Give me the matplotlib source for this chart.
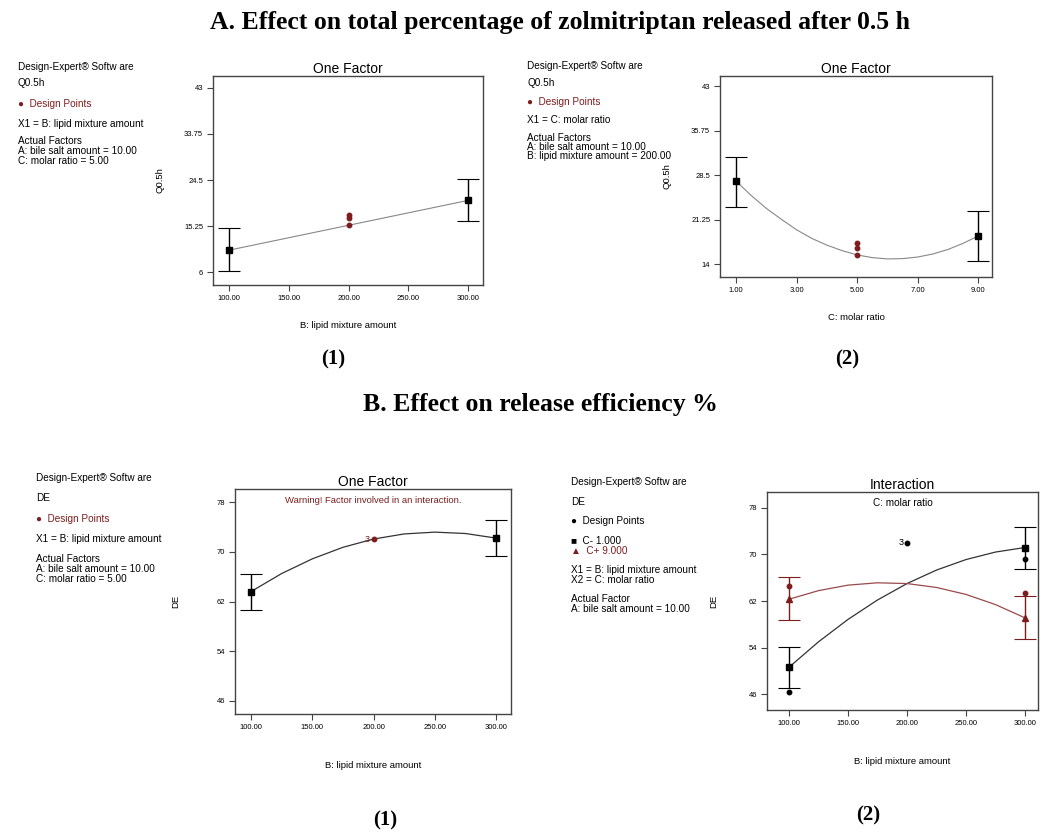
import numpy as np
import matplotlib
matplotlib.use('Agg')
import matplotlib.pyplot as plt

plt.rcParams['font.family'] = ['Liberation Sans', 'DejaVu Sans']

W, H = 1049, 832
RED = '#7d1d1d'
GREY = '#555555'

# ---- A(1): Q0.5h vs lipid mixture amount
a1_x = [100, 300]
a1_y = [10.4, 20.4]
a1_lo = [6.2, 16.2]
a1_hi = [14.8, 24.8]
a1_pts_x = [200, 200, 200]
a1_pts_y = [15.4, 16.9, 17.5]
a1_yticks = [6, 15.25, 24.5, 33.75, 43]
a1_ylabels = ['6', '15.25', '24.5', '33.75', '43']
a1_xticks = [100, 150, 200, 250, 300]

# ---- A(2): Q0.5h vs molar ratio
a2_x = [1, 9]
a2_y = [27.55, 18.6]
a2_lo = [23.4, 14.55]
a2_hi = [31.5, 22.6]
a2_curve_x = [1, 1.5, 2, 2.5, 3, 3.5, 4, 4.5, 5, 5.5, 6, 6.5, 7, 7.5, 8, 8.5, 9]
a2_curve_y = [27.55, 25.2, 23.1, 21.3, 19.6, 18.2, 17.1, 16.2, 15.5, 15.06, 14.85,
              14.9, 15.16, 15.66, 16.4, 17.4, 18.6]
a2_pts_x = [5, 5, 5]
a2_pts_y = [15.5, 16.7, 17.4]
a2_yticks = [14, 21.25, 28.5, 35.75, 43]
a2_ylabels = ['14', '21.25', '28.5', '35.75', '43']
a2_xticks = [1, 3, 5, 7, 9]

# ---- B(1): DE vs lipid mixture amount
b1_x = [100, 300]
b1_y = [63.6, 72.2]
b1_lo = [60.6, 69.3]
b1_hi = [66.4, 75.1]
b1_curve_x = [100, 125, 150, 175, 200, 225, 250, 275, 300]
b1_curve_y = [63.6, 66.5, 68.86, 70.72, 72.05, 72.87, 73.16, 72.94, 72.2]
b1_pt = (200, 72.05)
b_yticks = [46, 54, 62, 70, 78]
b_xticks = [100, 150, 200, 250, 300]

# ---- B(2): interaction plot
b2_x = [100, 300]
cm_y = [50.6, 71.2]
cm_lo = [47.0, 67.5]
cm_hi = [54.1, 74.7]
cp_y = [62.3, 59.1]
cp_lo = [58.8, 55.5]
cp_hi = [66.1, 62.8]
b2_curve_x = [100, 125, 150, 175, 200, 225, 250, 275, 300]
cm_curve = [50.6, 54.97, 58.83, 62.17, 65.0, 67.32, 69.13, 70.42, 71.2]
cp_curve = [62.3, 63.78, 64.73, 65.13, 65.0, 64.33, 63.13, 61.38, 59.1]
b2_black_x = [100, 300, 200]
b2_black_y = [46.4, 69.2, 72.0]
b2_red_x = [100, 300]
b2_red_y = [64.5, 63.4]


def make_ax(l, r, t, b):
    return fig.add_axes([l / W, 1 - b / H, (r - l) / W, (b - t) / H])


def style(ax, xticks, xfmt, yticks, ylabels, xlabel, ylabel, title):
    ax.set_xticks(xticks)
    ax.set_xticklabels([xfmt % v for v in xticks], fontsize=5.5)
    ax.set_yticks(yticks)
    ax.set_yticklabels(ylabels, fontsize=5.5)
    ax.tick_params(direction='out', length=4, width=0.8, color='#444444', pad=3)
    for s in ax.spines.values():
        s.set_color('#444444')
        s.set_linewidth(1.0)
    ax.set_title(title, fontsize=10, pad=2)
    ax.set_xlabel(xlabel, fontsize=6.8, labelpad=14)
    ax.set_ylabel(ylabel, fontsize=6.8, labelpad=14)


def side_text(x, lines):
    for y, txt, col in lines:
        fig.text(x / W, 1 - y / H, txt, fontsize=7.2, color=col, va='center', ha='left')


fig = plt.figure(figsize=(W / 100, H / 100), dpi=100)

# titles
fig.text(560 / W, 1 - 22 / H, 'A. Effect on total percentage of zolmitriptan released after 0.5 h',
         family='Liberation Serif', weight='bold', fontsize=18.5, ha='center', va='center')
fig.text(540 / W, 1 - 405 / H, 'B. Effect on release efficiency %',
         family='Liberation Serif', weight='bold', fontsize=18.5, ha='center', va='center')
for x, y, s in [(333, 359, '(1)'), (847, 359, '(2)'), (385, 820, '(1)'), (868, 815, '(2)')]:
    fig.text(x / W, 1 - y / H, s, family='Liberation Serif', weight='bold',
             fontsize=15, ha='center', va='center')

# ---- A(1)
ax = make_ax(213, 483, 76, 285)
ax.plot(a1_x, a1_y, color='#888888', lw=0.8)
ax.errorbar(a1_x, a1_y, yerr=[np.subtract(a1_y, a1_lo), np.subtract(a1_hi, a1_y)],
            fmt='s', color='black', ms=4.5, capsize=8, elinewidth=1, capthick=0.8)
ax.plot(a1_pts_x, a1_pts_y, 'o', color=RED, ms=3.2)
ax.set_xlim(86.6, 312.5)
ax.set_ylim(3.4, 45.4)
style(ax, a1_xticks, '%.2f', a1_yticks, a1_ylabels, 'B: lipid mixture amount', 'Q0.5h', 'One Factor')
side_text(18, [(67, 'Design-Expert® Softw are', 'black'), (83, 'Q0.5h', 'black'),
               (104, '●  Design Points', RED), (124, 'X1 = B: lipid mixture amount', 'black'),
               (141, 'Actual Factors', 'black'), (151, 'A: bile salt amount = 10.00', 'black'),
               (161, 'C: molar ratio = 5.00', 'black')])

# ---- A(2)
ax = make_ax(720, 992, 76, 277)
ax.plot(a2_curve_x, a2_curve_y, color='#888888', lw=0.8)
ax.errorbar(a2_x, a2_y, yerr=[np.subtract(a2_y, a2_lo), np.subtract(a2_hi, a2_y)],
            fmt='s', color='black', ms=4.5, capsize=8, elinewidth=1, capthick=0.8)
ax.plot(a2_pts_x, a2_pts_y, 'o', color=RED, ms=3.2)
ax.set_xlim(0.47, 9.45)
ax.set_ylim(11.9, 44.7)
style(ax, a2_xticks, '%.2f', a2_yticks, a2_ylabels, 'C: molar ratio', 'Q0.5h', 'One Factor')
side_text(527, [(66, 'Design-Expert® Softw are', 'black'), (83, 'Q0.5h', 'black'),
                (102, '●  Design Points', RED), (120, 'X1 = C: molar ratio', 'black'),
                (138, 'Actual Factors', 'black'), (147, 'A: bile salt amount = 10.00', 'black'),
                (156, 'B: lipid mixture amount = 200.00', 'black')])

# ---- B(1)
ax = make_ax(235, 511, 489, 714)
ax.plot(b1_curve_x, b1_curve_y, color='#333333', lw=0.9)
ax.errorbar(b1_x, b1_y, yerr=[np.subtract(b1_y, b1_lo), np.subtract(b1_hi, b1_y)],
            fmt='s', color='black', ms=4.5, capsize=8, elinewidth=1, capthick=0.8)
ax.plot(*b1_pt, 'o', color=RED, ms=3.2)
ax.text(b1_pt[0] - 3, b1_pt[1], '3', color=RED, fontsize=6.5, ha='right', va='center')
ax.text(0.5, 0.95, 'Warning! Factor involved in an interaction.', transform=ax.transAxes,
        color=RED, fontsize=6.8, ha='center', va='center')
ax.set_xlim(86.9, 312.2)
ax.set_ylim(43.9, 80.1)
style(ax, b_xticks, '%.2f', b_yticks, [str(v) for v in b_yticks],
      'B: lipid mixture amount', 'DE', 'One Factor')
ax.xaxis.labelpad = 22
ax.yaxis.labelpad = 26
side_text(36, [(478, 'Design-Expert® Softw are', 'black'), (498, 'DE', 'black'),
               (519, '●  Design Points', RED), (539, 'X1 = B: lipid mixture amount', 'black'),
               (559, 'Actual Factors', 'black'), (569, 'A: bile salt amount = 10.00', 'black'),
               (579, 'C: molar ratio = 5.00', 'black')])

# ---- B(2)
ax = make_ax(767, 1038, 492, 710)
ax.plot(b2_curve_x, cm_curve, color='#333333', lw=0.9)
ax.plot(b2_curve_x, cp_curve, color='#9a4a4a', lw=0.9)
ax.errorbar(b2_x, cm_y, yerr=[np.subtract(cm_y, cm_lo), np.subtract(cm_hi, cm_y)],
            fmt='s', color='black', ms=4.5, capsize=8, elinewidth=1, capthick=0.8)
ax.errorbar(b2_x, cp_y, yerr=[np.subtract(cp_y, cp_lo), np.subtract(cp_hi, cp_y)],
            fmt='^', color=RED, mfc=RED, ms=4.5, capsize=8, elinewidth=1, capthick=0.8)
ax.plot(b2_black_x, b2_black_y, 'o', color='black', ms=3.2)
ax.plot(b2_red_x, b2_red_y, 'o', color=RED, ms=3.2)
ax.text(b2_black_x[2] - 3, b2_black_y[2], '3', color='black', fontsize=6.5, ha='right', va='center')
ax.text(0.5, 0.95, 'C: molar ratio', transform=ax.transAxes, fontsize=7.2, ha='center', va='center')
ax.set_xlim(81.4, 311)
ax.set_ylim(43.25, 80.75)
style(ax, b_xticks, '%.2f', b_yticks, [str(v) for v in b_yticks],
      'B: lipid mixture amount', 'DE', 'Interaction')
ax.xaxis.labelpad = 22
ax.yaxis.labelpad = 22
side_text(571, [(482, 'Design-Expert® Softw are', 'black'), (502, 'DE', 'black'),
                (521, '●  Design Points', 'black'), (541, '■  C- 1.000', 'black'),
                (551, '▲  C+ 9.000', RED), (570, 'X1 = B: lipid mixture amount', 'black'),
                (580, 'X2 = C: molar ratio', 'black'), (599, 'Actual Factor', 'black'),
                (609, 'A: bile salt amount = 10.00', 'black')])

fig.savefig('out.png', dpi=100)
